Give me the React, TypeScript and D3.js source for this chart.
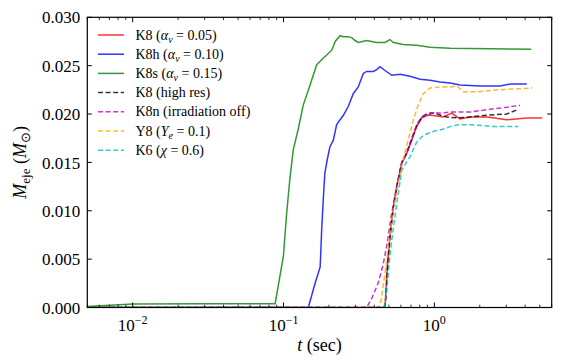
import React from "react";
import * as d3 from "d3";

// ejected mass vs time: [t (sec), M_eje (M_sun)]
const k8: [number, number][] = [
  [0.005, 0], [0.46, 0], [0.471, 0.0001], [0.483, 0.0032], [0.495, 0.0053], [0.508, 0.0073],
  [0.535, 0.0104], [0.564, 0.0125], [0.608, 0.0149], [0.656, 0.0159], [0.708, 0.0173],
  [0.764, 0.0187], [0.826, 0.0196], [0.912, 0.0199], [1.037, 0.0198], [1.148, 0.0197],
  [1.303, 0.0201], [1.479, 0.0195], [1.725, 0.0197], [2.23, 0.0197], [3.02, 0.0194],
  [4.1, 0.0196], [5.2, 0.0196],
];
const k8h: [number, number][] = [
  [0.005, 0], [0.146, 0], [0.162, 0.0025], [0.175, 0.0042], [0.179, 0.008], [0.184, 0.0115],
  [0.188, 0.0139], [0.195, 0.0153], [0.203, 0.0166], [0.214, 0.0173], [0.225, 0.0189],
  [0.25, 0.0199], [0.269, 0.0208], [0.29, 0.0221], [0.313, 0.0228], [0.338, 0.0242],
  [0.356, 0.0244], [0.394, 0.0244], [0.415, 0.0246], [0.436, 0.0249], [0.471, 0.0245],
  [0.522, 0.024], [0.593, 0.0241], [0.69, 0.0239], [0.804, 0.0236], [0.938, 0.0235],
  [1.091, 0.0233], [1.27, 0.0232], [1.479, 0.023], [2.01, 0.0229], [2.73, 0.0229],
  [3.18, 0.0231], [4.1, 0.0231],
];
const k8s: [number, number][] = [
  [0.005, 0.0001], [0.01, 0.00035], [0.03, 0.0004], [0.088, 0.0004], [0.0998, 0.0053],
  [0.105, 0.0098], [0.11, 0.0132], [0.116, 0.0163], [0.125, 0.0184], [0.135, 0.0209],
  [0.15, 0.023], [0.166, 0.0251], [0.184, 0.0258], [0.209, 0.0266], [0.22, 0.0275],
  [0.237, 0.0281], [0.25, 0.028], [0.269, 0.028], [0.283, 0.0279], [0.298, 0.0276],
  [0.313, 0.0274], [0.356, 0.0276], [0.415, 0.0274], [0.471, 0.0274], [0.508, 0.0277],
  [0.535, 0.0274], [0.622, 0.0272], [0.764, 0.0271], [0.938, 0.0269], [1.27, 0.0268],
  [4.38, 0.0267],
];
const k8hr: [number, number][] = [
  [0.005, 0], [0.465, 0], [0.478, 0.001], [0.49, 0.0045], [0.508, 0.0073], [0.535, 0.0104],
  [0.564, 0.0126], [0.608, 0.015], [0.656, 0.016], [0.708, 0.0174], [0.764, 0.0188],
  [0.826, 0.0197], [0.912, 0.0201], [0.984, 0.0201], [1.208, 0.0197], [1.409, 0.0196],
  [1.725, 0.0197], [2.34, 0.0199], [3.02, 0.02], [3.61, 0.0205],
];
const k8n: [number, number][] = [
  [0.005, 0], [0.356, 0], [0.386, 0.001], [0.426, 0.0026], [0.457, 0.0044], [0.485, 0.0065],
  [0.516, 0.0093], [0.564, 0.0126], [0.608, 0.015], [0.656, 0.016], [0.708, 0.0175],
  [0.764, 0.0189], [0.826, 0.0197], [0.984, 0.0201], [1.12, 0.0201], [1.27, 0.0202],
  [1.725, 0.0202], [2.34, 0.0205], [3.02, 0.0207], [3.7, 0.0209],
];
const y8: [number, number][] = [
  [0.005, 0], [0.43, 0], [0.444, 0.0008], [0.459, 0.0023], [0.483, 0.0049], [0.508, 0.0075],
  [0.535, 0.0101], [0.574, 0.0127], [0.622, 0.0153], [0.67, 0.0173], [0.726, 0.0194],
  [0.78, 0.0209], [0.845, 0.0221], [0.938, 0.0227], [1.091, 0.0228], [1.27, 0.0228],
  [1.409, 0.0229], [1.556, 0.0223], [1.91, 0.0223], [2.59, 0.0225], [3.52, 0.0226],
  [4.47, 0.0227],
];
const k6: [number, number][] = [
  [0.005, 0], [0.465, 0], [0.48, 0.0013], [0.494, 0.0034], [0.508, 0.0054], [0.522, 0.007],
  [0.564, 0.0108], [0.608, 0.0142], [0.69, 0.0156], [0.764, 0.0171], [0.845, 0.0178],
  [0.984, 0.0182], [1.12, 0.0184], [1.27, 0.0187], [1.443, 0.0189], [1.725, 0.0189],
  [2.11, 0.0188], [2.46, 0.0187], [3.02, 0.0187], [3.61, 0.0187],
];

const yTicks = [0, 0.005, 0.01, 0.015, 0.02, 0.025, 0.03];
const xMajor = [0.01, 0.1, 1];
const xExp = ["\u22122", "\u22121", "0"];

const series = [
  { data: k8, color: "#ff0000", dash: "", label: ["K8 (", "α", "ν", " = 0.05)"] },
  { data: k8h, color: "#0000ff", dash: "", label: ["K8h (", "α", "ν", " = 0.10)"] },
  { data: k8s, color: "#008000", dash: "", label: ["K8s (", "α", "ν", " = 0.15)"] },
  { data: k8hr, color: "#000000", dash: "5,2.6", label: ["K8 (high res)"] },
  { data: k8n, color: "#bf00bf", dash: "5,2.6", label: ["K8n (irradiation off)"] },
  { data: y8, color: "#ffa500", dash: "5,2.6", label: ["Y8 (", "Y", "e", " = 0.1)"] },
  { data: k6, color: "#00bfbf", dash: "5,2.6", label: ["K6 (", "χ", "", " = 0.6)"] },
];

const W = 581;
const H = 363;
const m = { left: 87.3, right: 551.7, top: 17.3, bottom: 307.5 };
const font = "Liberation Serif";

export default function App() {
  const x = d3.scaleLog().domain([0.005, 6]).range([m.left, m.right]);
  const y = d3.scaleLinear().domain([0, 0.03]).range([m.bottom, m.top]);
  const line = d3
    .line<[number, number]>()
    .x((d) => x(d[0]))
    .y((d) => y(d[1]));

  // minor log ticks 2..9 per decade inside the domain
  const xMinor: number[] = [];
  [0.001, 0.01, 0.1, 1].forEach((dec) => {
    for (let k = 2; k <= 9; k++) {
      const v = dec * k;
      if (v >= 0.005 && v <= 6) xMinor.push(v);
    }
  });

  return (
    <svg
      width={W}
      height={H}
      style={{ position: "absolute", left: 0, top: 0, fontFamily: font }}
    >
      <rect width={W} height={H} fill="white" />
      <defs>
        <clipPath id="plot">
          <rect x={m.left} y={m.top} width={m.right - m.left} height={m.bottom - m.top} />
        </clipPath>
      </defs>

      <g clipPath="url(#plot)">
        {series.map((s, i) => (
          <path
            key={i}
            d={line(s.data) || ""}
            fill="none"
            stroke={s.color}
            strokeOpacity={0.8}
            strokeWidth={1.5}
            strokeDasharray={s.dash || undefined}
          />
        ))}
      </g>

      {/* frame */}
      <rect
        x={m.left}
        y={m.top}
        width={m.right - m.left}
        height={m.bottom - m.top}
        fill="none"
        stroke="black"
        strokeWidth={1.2}
      />

      {/* y ticks, inward on both sides */}
      {yTicks.map((t) => (
        <g key={t}>
          <line x1={m.left} x2={m.left + 4.5} y1={y(t)} y2={y(t)} stroke="black" />
          <line x1={m.right} x2={m.right - 4.5} y1={y(t)} y2={y(t)} stroke="black" />
          <text x={m.left - 7} y={y(t)} dy="0.36em" textAnchor="end" fontSize={17} fontFamily={font}>
            {t.toFixed(3)}
          </text>
        </g>
      ))}

      {/* x ticks */}
      {xMajor.map((t, i) => (
        <g key={t}>
          <line x1={x(t)} x2={x(t)} y1={m.bottom} y2={m.bottom - 5} stroke="black" />
          <line x1={x(t)} x2={x(t)} y1={m.top} y2={m.top + 5} stroke="black" />
          <text x={x(t)} y={m.bottom + 23} textAnchor="middle" fontSize={17} fontFamily={font}>
            10
            <tspan fontSize={12} dy={-7}>
              {xExp[i]}
            </tspan>
          </text>
        </g>
      ))}
      {xMinor.map((t) => (
        <g key={t}>
          <line x1={x(t)} x2={x(t)} y1={m.bottom} y2={m.bottom - 2.8} stroke="black" strokeWidth={0.8} />
          <line x1={x(t)} x2={x(t)} y1={m.top} y2={m.top + 2.8} stroke="black" strokeWidth={0.8} />
        </g>
      ))}

      {/* axis labels */}
      <text x={(m.left + m.right) / 2} y={351} textAnchor="middle" fontSize={18} fontFamily={font}>
        <tspan fontStyle="italic">t</tspan> (sec)
      </text>
      <text
        transform={`translate(26,${(m.top + m.bottom) / 2}) rotate(-90)`}
        textAnchor="middle"
        fontSize={18}
        fontFamily={font}
      >
        <tspan fontStyle="italic">M</tspan>
        <tspan fontSize={13} dy={4}>eje</tspan>
        <tspan dy={-4}> (</tspan>
        <tspan fontStyle="italic">M</tspan>
        <tspan fontSize={13} dy={4}>⊙</tspan>
        <tspan dy={-4}>)</tspan>
      </text>

      {/* legend */}
      {series.map((s, i) => {
        const ly = 35 + i * 19.2;
        const lab = s.label;
        return (
          <g key={i}>
            <line
              x1={98}
              x2={124}
              y1={ly}
              y2={ly}
              stroke={s.color}
              strokeOpacity={0.8}
              strokeWidth={1.5}
              strokeDasharray={s.dash || undefined}
            />
            <text x={135.5} y={ly} dy="0.33em" fontSize={14} fontFamily={font}>
              {lab.length === 1 ? (
                lab[0]
              ) : (
                <>
                  {lab[0]}
                  <tspan fontStyle="italic">{lab[1]}</tspan>
                  {lab[2] ? (
                    <>
                      <tspan fontStyle="italic" fontSize={10} dy={3}>
                        {lab[2]}
                      </tspan>
                      <tspan dy={-3}>{lab[3]}</tspan>
                    </>
                  ) : (
                    <tspan>{lab[3]}</tspan>
                  )}
                </>
              )}
            </text>
          </g>
        );
      })}
    </svg>
  );
}
